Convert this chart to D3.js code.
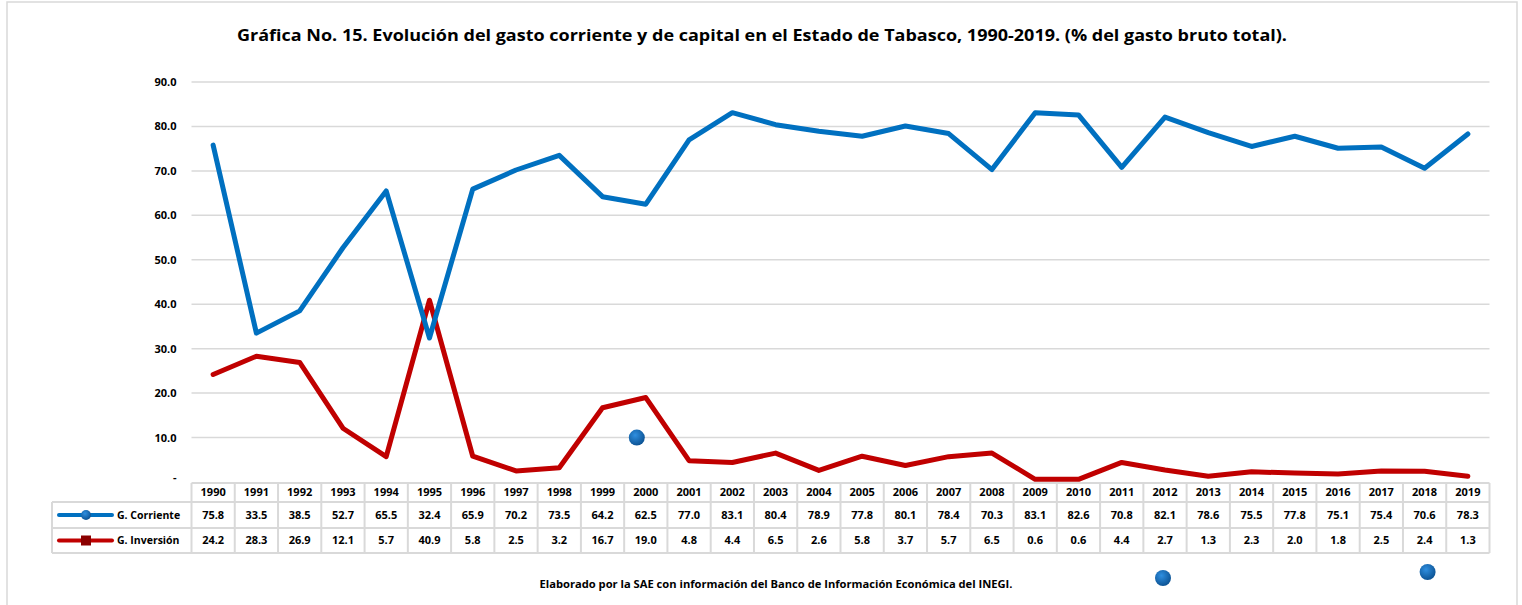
<!DOCTYPE html>
<html>
<head>
<meta charset="utf-8">
<script src="https://cdn.jsdelivr.net/npm/d3@7"></script>
<style>
  body { margin: 0; background: #fff; }
  text { font-family: "Open Sans", "Noto Sans", sans-serif; font-weight: bold; fill: #000; }
</style>
</head>
<body>
<script>
var years = [1990,1991,1992,1993,1994,1995,1996,1997,1998,1999,2000,2001,2002,2003,2004,
             2005,2006,2007,2008,2009,2010,2011,2012,2013,2014,2015,2016,2017,2018,2019];
var corriente = [75.8,33.5,38.5,52.7,65.5,32.4,65.9,70.2,73.5,64.2,62.5,77.0,83.1,80.4,78.9,
                 77.8,80.1,78.4,70.3,83.1,82.6,70.8,82.1,78.6,75.5,77.8,75.1,75.4,70.6,78.3];
var inversion = [24.2,28.3,26.9,12.1,5.7,40.9,5.8,2.5,3.2,16.7,19.0,4.8,4.4,6.5,2.6,
                 5.8,3.7,5.7,6.5,0.6,0.6,4.4,2.7,1.3,2.3,2.0,1.8,2.5,2.4,1.3];
var yTicks = [0,10,20,30,40,50,60,70,80,90];
var seriesNames = ["G. Corriente", "G. Inversión"];
var title = "Gráfica No. 15. Evolución del gasto corriente y de capital en el Estado de Tabasco, 1990-2019. (% del gasto bruto total).";
var source = "Elaborado por la SAE con información del Banco de Información Económica del INEGI.";

var W = 1522, H = 605;
var plotLeft = 191.5, plotRight = 1489.5, plotTop = 82, plotBottom = 482;
var legLeft = 52;
var rowTops = [483, 502, 528, 553];

var svg = d3.select("body").append("svg")
    .attr("width", W).attr("height", H);

// chart frame
svg.append("rect")
    .attr("x", 7).attr("y", 2).attr("width", 1510).attr("height", H + 10)
    .attr("fill", "none").attr("stroke", "#d9d9d9").attr("stroke-width", 1.5);

svg.append("text")
    .attr("x", 762).attr("y", 41)
    .attr("text-anchor", "middle")
    .attr("textLength", 1050).attr("lengthAdjust", "spacingAndGlyphs")
    .style("font-size", "16.5px")
    .text(title);

var x = d3.scaleBand().domain(years).range([plotLeft, plotRight]);
var y = d3.scaleLinear().domain([0, 90]).range([plotBottom, plotTop]);
var cx = function(yr) { return x(yr) + x.bandwidth() / 2; };

// gridlines
svg.append("g").selectAll("line")
    .data(yTicks.filter(function(d) { return d > 0; }))
    .enter().append("line")
    .attr("x1", plotLeft).attr("x2", plotRight)
    .attr("y1", function(d) { return y(d); })
    .attr("y2", function(d) { return y(d); })
    .attr("stroke", "#d9d9d9").attr("stroke-width", 1.5);

// y axis labels
var yAxis = d3.axisLeft(y).tickValues(yTicks).tickSize(0).tickPadding(15)
    .tickFormat(function(d) { return d === 0 ? "-" : d3.format(".1f")(d); });
var ga = svg.append("g").attr("transform", "translate(" + plotLeft + ",0)").call(yAxis);
ga.select(".domain").remove();
ga.selectAll("text")
    .style("font-size", "11px")
    .style("font-family", "'Open Sans', sans-serif")
    .style("font-weight", "bold");
ga.selectAll(".tick").filter(function(d) { return d === 0; }).select("text")
    .attr("dy", "-0.1em");

// lines
var series = [
  { name: seriesNames[0], values: corriente, color: "#0070c0" },
  { name: seriesNames[1], values: inversion, color: "#c00000" }
];
var line = d3.line()
    .x(function(d, i) { return cx(years[i]); })
    .y(function(d) { return y(d); });

svg.append("g").selectAll("path")
    .data(series.slice().reverse())
    .enter().append("path")
    .attr("d", function(s) { return line(s.values); })
    .attr("fill", "none")
    .attr("stroke", function(s) { return s.color; })
    .attr("stroke-width", 5)
    .attr("stroke-linejoin", "round")
    .attr("stroke-linecap", "round");

// stray markers left in the original
var grad = svg.append("defs").append("radialGradient").attr("id", "ball")
    .attr("cx", "40%").attr("cy", "35%").attr("r", "70%");
grad.append("stop").attr("offset", "0%").attr("stop-color", "#2f8fe0");
grad.append("stop").attr("offset", "100%").attr("stop-color", "#0a4f8f");
svg.append("circle").attr("cx", cx(2000) - 9).attr("cy", y(10)).attr("r", 8).attr("fill", "url(#ball)");
svg.append("circle").attr("cx", cx(2012) - 2).attr("cy", 578).attr("r", 8).attr("fill", "url(#ball)");
svg.append("circle").attr("cx", cx(2018) + 3).attr("cy", 572).attr("r", 8).attr("fill", "url(#ball)");

// data table
var tbl = svg.append("g");
var gridColor = "#d9d9d9";
tbl.append("line").attr("x1", plotLeft).attr("x2", plotRight).attr("y1", rowTops[0]).attr("y2", rowTops[0])
    .attr("stroke", gridColor).attr("stroke-width", 2);
[1, 2, 3].forEach(function(r) {
  tbl.append("line").attr("x1", legLeft).attr("x2", plotRight).attr("y1", rowTops[r]).attr("y2", rowTops[r])
      .attr("stroke", gridColor).attr("stroke-width", 2);
});
var vx = years.map(function(yr) { return x(yr); }).concat([plotRight]);
tbl.selectAll("line.v").data(vx).enter().append("line")
    .attr("x1", function(d) { return d; }).attr("x2", function(d) { return d; })
    .attr("y1", rowTops[0]).attr("y2", rowTops[3])
    .attr("stroke", gridColor).attr("stroke-width", 2);
tbl.append("line").attr("x1", legLeft).attr("x2", legLeft).attr("y1", rowTops[1]).attr("y2", rowTops[3])
    .attr("stroke", gridColor).attr("stroke-width", 2);

var rowMid = function(r) { return (rowTops[r] + rowTops[r + 1]) / 2; };

tbl.selectAll("text.yr").data(years).enter().append("text")
    .attr("x", function(d) { return cx(d); })
    .attr("y", rowMid(0)).attr("dy", "0.36em")
    .attr("text-anchor", "middle").style("font-size", "11px")
    .text(function(d) { return d; });

series.forEach(function(s, r) {
  tbl.selectAll("text.v" + r).data(s.values).enter().append("text")
      .attr("x", function(d, i) { return cx(years[i]); })
      .attr("y", rowMid(r + 1)).attr("dy", "0.36em")
      .attr("text-anchor", "middle").style("font-size", "11px")
      .text(function(d) { return d3.format(".1f")(d); });

  var my = rowMid(r + 1);
  tbl.append("line").attr("x1", 59).attr("x2", 112).attr("y1", my).attr("y2", my)
      .attr("stroke", s.color).attr("stroke-width", 4).attr("stroke-linecap", "round");
  if (r === 0) {
    tbl.append("circle").attr("cx", 86).attr("cy", my).attr("r", 5).attr("fill", "url(#ball)");
  } else {
    tbl.append("rect").attr("x", 81).attr("y", my - 5).attr("width", 10).attr("height", 10)
        .attr("fill", "#8b0000");
  }
  tbl.append("text").attr("x", 117).attr("y", my).attr("dy", "0.36em")
      .style("font-size", "10.5px").text(s.name);
});

svg.append("text")
    .attr("x", 776).attr("y", 588)
    .attr("text-anchor", "middle")
    .attr("textLength", 473).attr("lengthAdjust", "spacingAndGlyphs")
    .style("font-size", "10.5px")
    .text(source);
</script>
</body>
</html>
